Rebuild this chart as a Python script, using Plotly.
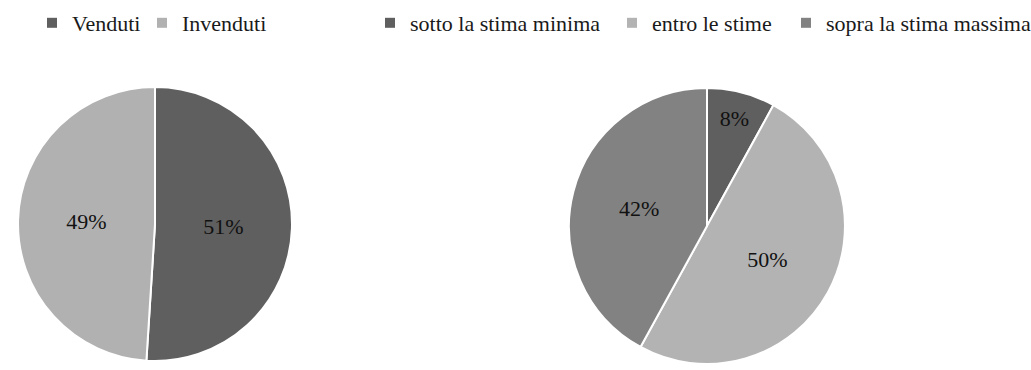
import plotly.graph_objects as go

# Lot outcome: sold vs unsold
sale_labels = ["Venduti", "Invenduti"]
sale_values = [51, 49]
sale_colors = ["#5f5f5f", "#b1b1b1"]

# Hammer price vs estimate range
est_labels = ["sotto la stima minima", "entro le stime", "sopra la stima massima"]
est_values = [8, 50, 42]
est_colors = ["#5f5f5f", "#b3b3b3", "#828282"]

W, H = 1031, 370
SERIF = "Liberation Serif"


def dom(cx, cy, r):
    """Pie domain centred at pixel (cx, cy from top) with radius r."""
    return dict(
        x=[(cx - r) / W, (cx + r) / W],
        y=[(H - cy - r) / H, (H - cy + r) / H],
    )


fig = go.Figure()

for labels, values, colors, centre in [
    (sale_labels, sale_values, sale_colors, (155, 224, 137)),
    (est_labels, est_values, est_colors, (707, 226, 138)),
]:
    fig.add_trace(go.Pie(
        labels=labels,
        values=values,
        sort=False,
        direction="clockwise",
        rotation=0,
        marker=dict(colors=colors, line=dict(color="white", width=2)),
        texttemplate="%{value}%",
        textposition="inside",
        insidetextorientation="horizontal",
        textfont=dict(family=SERIF, size=22, color="#111111"),
        domain=dom(*centre),
        showlegend=False,
        hoverinfo="label+percent",
    ))

# Legend entries: one swatch per category, each in its own legend box so
# the entries can sit at their own horizontal positions.
entry_x = [32, 142, 370, 612, 786]
legend_names = ["legend", "legend2", "legend3", "legend4", "legend5"]
entries = list(zip(sale_labels + est_labels, sale_colors + est_colors))

legend_font = dict(family=SERIF, size=22, color="#1a1a1a")
layout_legends = {}
for (name, color), lg, lx in zip(entries, legend_names, entry_x):
    fig.add_trace(go.Scatter(
        x=[None], y=[None], mode="markers", name=name,
        marker=dict(symbol="square", size=10, color=color),
        legend=lg, showlegend=True, hoverinfo="skip",
    ))
    layout_legends[lg] = dict(
        orientation="h", x=lx / W, y=1.0 - 2 / H, xanchor="left", yanchor="top",
        font=legend_font, itemwidth=30, bgcolor="rgba(0,0,0,0)",
    )

fig.update_layout(
    width=W,
    height=H,
    margin=dict(l=0, r=0, t=0, b=0, autoexpand=False),
    paper_bgcolor="white",
    plot_bgcolor="white",
    xaxis=dict(visible=False),
    yaxis=dict(visible=False),
    **layout_legends,
)

fig.write_html("out.html")
